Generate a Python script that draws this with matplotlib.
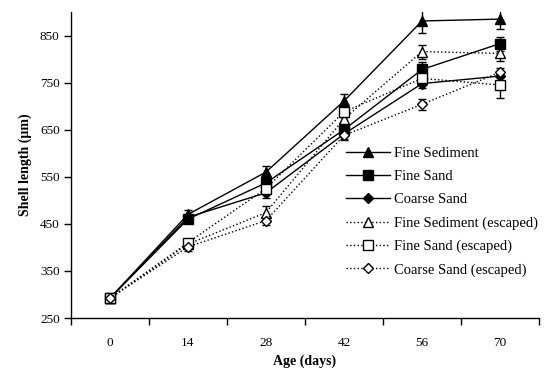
import numpy as np
import matplotlib
matplotlib.use("Agg")
import matplotlib.pyplot as plt
from matplotlib.lines import Line2D
from matplotlib.ticker import FixedLocator, NullFormatter

plt.rcParams['font.family'] = ['Liberation Serif', 'DejaVu Serif']

# Age categories (days)
ages = ['0', '14', '28', '42', '56', '70']

# mean shell length (um)
fine_sed = [292, 470, 560, 711, 881, 885]
fine_sand = [292, 460, 537, 650, 778, 833]
coarse_sand = [292, 464, 516, 641, 748, 764]
fine_sed_esc = [292, 407, 474, 673, 816, 812]
fine_sand_esc = [292, 410, 525, 688, 759, 745]
coarse_sand_esc = [292, 401, 457, 638, 704, 772]

# error bar half-widths (um)
fine_sed_err = [5, 10, 13, 15, 25, 20]
fine_sand_err = [5, 8, 10, 10, 15, 15]
coarse_sand_err = [5, 8, 10, 10, 10, 10]
fine_sed_esc_err = [5, 8, 15, 12, 15, 15]
fine_sand_esc_err = [5, 8, 12, 12, 12, 27]
coarse_sand_esc_err = [5, 8, 10, 10, 12, 10]

series = [
    ('Fine Sediment', fine_sed, fine_sed_err, '-', '^', 'black'),
    ('Fine Sand', fine_sand, fine_sand_err, '-', 's', 'black'),
    ('Coarse Sand', coarse_sand, coarse_sand_err, '-', 'D', 'black'),
    ('Fine Sediment (escaped)', fine_sed_esc, fine_sed_esc_err, ':', '^', 'white'),
    ('Fine Sand (escaped)', fine_sand_esc, fine_sand_esc_err, ':', 's', 'white'),
    ('Coarse Sand (escaped)', coarse_sand_esc, coarse_sand_esc_err, ':', 'D', 'white'),
]

fig = plt.figure(figsize=(5.49, 3.82), dpi=100)
ax = fig.add_axes([0.129, 0.1675, 0.853, 0.801])

x = np.arange(len(ages))
msize = {'^': 7, 's': 7, 'D': 5.5}
handles = []
for name, vals, err, ls, mk, fc in series:
    ax.errorbar(x, vals, yerr=err, color='black', linestyle=ls, linewidth=1.0,
                marker=mk, markersize=msize[mk], markerfacecolor=fc,
                markeredgecolor='black', markeredgewidth=1.0,
                elinewidth=1.0, capsize=3, capthick=1.0)
    # legend entries without the error bars
    handles.append(Line2D([], [], color='black', linestyle=ls, linewidth=1.0,
                          marker=mk, markersize=msize[mk], markerfacecolor=fc,
                          markeredgecolor='black', label=name))

ax.set_xlim(-0.5, len(ages) - 0.5)
ax.set_ylim(250, 900)
ax.set_yticks(np.arange(250, 851, 100))

# ticks at category boundaries, labels at centres
ax.xaxis.set_major_locator(FixedLocator(np.arange(-0.5, len(ages), 1.0)))
ax.xaxis.set_major_formatter(NullFormatter())
ax.xaxis.set_minor_locator(FixedLocator(x))
ax.set_xticklabels(ages, minor=True)
ax.tick_params(axis='x', which='minor', length=0, pad=14, labelsize=9.5)
ax.tick_params(axis='x', which='major', direction='out', length=5, width=1)
ax.tick_params(axis='y', direction='out', length=5, width=1, labelsize=9.5, pad=3)

for s in ['top', 'right']:
    ax.spines[s].set_visible(False)
for s in ['left', 'bottom']:
    ax.spines[s].set_linewidth(1.0)

ax.set_xlabel('Age (days)', fontweight='bold', fontsize=10, labelpad=4)
ax.set_ylabel('Shell length (µm)', fontweight='bold', fontsize=10, labelpad=6)

ax.legend(handles=handles, loc='upper left', bbox_to_anchor=(0.575, 0.578),
          frameon=False, fontsize=10.5, handlelength=3.0, labelspacing=0.68,
          handletextpad=0.3, borderaxespad=0)

fig.savefig('out.png', dpi=100)
